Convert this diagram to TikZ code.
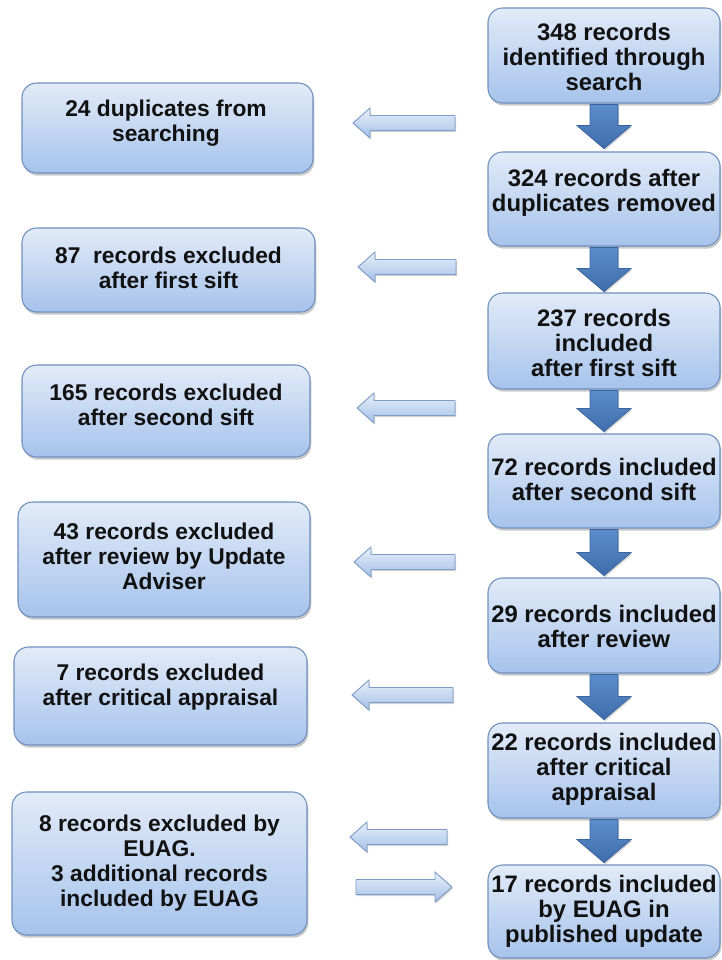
\documentclass[tikz,border=0pt]{standalone}
\usepackage{fontspec}
\setmainfont{Liberation Sans}
\usetikzlibrary{shadows}
\definecolor{boxtop}{HTML}{E2EBF8}
\definecolor{boxbot}{HTML}{A6C3EC}
\definecolor{boxline}{HTML}{6F8FBD}
\definecolor{dntop}{HTML}{5C8DCB}
\definecolor{dnbot}{HTML}{3E6DAB}
\definecolor{dnline}{HTML}{3A64A0}
\definecolor{artop}{HTML}{E8F0FA}
\definecolor{arbot}{HTML}{A3C0E8}
\definecolor{arline}{HTML}{7F9CC6}
\definecolor{txtcol}{HTML}{111111}
\begin{document}
\begin{tikzpicture}[x=0.75pt,y=-0.75pt,
  box/.style 2 args={draw=boxline, line width=0.8pt, rounded corners=11pt,
    top color=boxtop, bottom color=boxbot, inner sep=0pt,
    minimum width=#1*0.75pt, minimum height=#2*0.75pt,
    drop shadow={shadow xshift=1pt, shadow yshift=-2pt, opacity=0.3, fill=black!70}},
  txt/.style={align=center, font=\bfseries\fontsize{17.1}{18.8}\selectfont, text=txtcol, inner sep=0pt},
  rtxt/.style={align=center, font=\bfseries\fontsize{17.9}{18.8}\selectfont, text=txtcol, inner sep=0pt},
  dnshape/.style={top color=dntop, bottom color=dnbot, draw=dnline, line width=0.6pt,
    drop shadow={shadow xshift=0.8pt, shadow yshift=-1.2pt, opacity=0.25, fill=black!70}},
  arshape/.style={top color=artop, bottom color=arbot, draw=arline, line width=0.7pt,
    drop shadow={shadow xshift=0.8pt, shadow yshift=-1.2pt, opacity=0.25, fill=black!70}},
  dn/.pic={\shade[dnshape] (-14,0) -- (14,0) -- (14,#1-23) -- (27,#1-23) -- (0,#1) -- (-27,#1-23) -- (-14,#1-23) -- cycle;},
  lar/.pic={\shade[arshape] (0,0) -- (17,-15) -- (17,-7.5) -- (#1,-7.5) -- (#1,7.5) -- (17,7.5) -- (17,15) -- cycle;},
  rar/.pic={\shade[arshape] (0,0) -- (-17,-15) -- (-17,-7.5) -- (-#1,-7.5) -- (-#1,7.5) -- (-17,7.5) -- (-17,15) -- cycle;}
]
\useasboundingbox (0,0) rectangle (721,960);

% right column boxes
\node[box={232}{95}] (R1) at (604,55.5) {};
\node[box={232}{94}] (R2) at (604,199) {};
\node[box={232}{96}] (R3) at (604,341) {};
\node[box={232}{94}] (R4) at (604,481) {};
\node[box={232}{95}] (R5) at (604,625.5) {};
\node[box={232}{95}] (R6) at (604,770.5) {};
\node[box={232}{93}] (R7) at (604,911.5) {};

\node[rtxt] (R1t) at (604,57) {348 records\\identified through\\search};
\node[rtxt] (R2t) at (604,192.5) {324 records after\\duplicates removed};
\node[rtxt] (R3t) at (604,343) {237 records\\included\\after first sift};
\node[rtxt] (R4t) at (604,479) {72 records included\\after second sift};
\node[rtxt] (R5t) at (604,626) {29 records included\\after review};
\node[rtxt] (R6t) at (604,769) {22 records included\\after critical\\appraisal};
\node[rtxt] (R7t) at (604,911) {17 records included\\by EUAG in\\published update};

% left column boxes
\node[box={291}{90}] (L1) at (167.5,128) {};
\node[box={293}{84}] (L2) at (168.5,270) {};
\node[box={288}{92}] (L3) at (166,411) {};
\node[box={292}{115}] (L4) at (164,559.5) {};
\node[box={293}{98}] (L5) at (160.5,696) {};
\node[box={295}{143}] (L6) at (159.5,863.5) {};

\node[txt] (L1t) at (166,123) {24 duplicates from\\searching};
\node[txt] (L2t) at (168.5,268) {87\ \ records excluded\\after first sift};
\node[txt] (L3t) at (166,405) {165 records excluded\\after second sift};
\node[txt] (L4t) at (164,556.5) {43 records excluded\\after review by Update\\Adviser};
\node[txt] (L5t) at (160.5,687.5) {7 records excluded\\after critical appraisal};
\node[txt] (L6t) at (159.5,863) {8 records excluded by\\EUAG.\\3 additional records\\included by EUAG};

% down arrows between right boxes
\pic at ([yshift=-0.75pt]R1.south) {dn=44};
\pic at ([yshift=-0.75pt]R2.south) {dn=44};
\pic at ([yshift=-0.75pt]R3.south) {dn=41};
\pic at ([yshift=-0.75pt]R4.south) {dn=46};
\pic at ([yshift=-0.75pt]R5.south) {dn=45};
\pic at ([yshift=-0.75pt]R6.south) {dn=43};

% side arrows
\pic at (353,123) {lar=102};
\pic at (358,267) {lar=98};
\pic at (357,408) {lar=98};
\pic at (354,562) {lar=101};
\pic at (352,695) {lar=101};
\pic at (350,837) {lar=97};
\pic at (452,887) {rar=96};
\end{tikzpicture}
\end{document}
